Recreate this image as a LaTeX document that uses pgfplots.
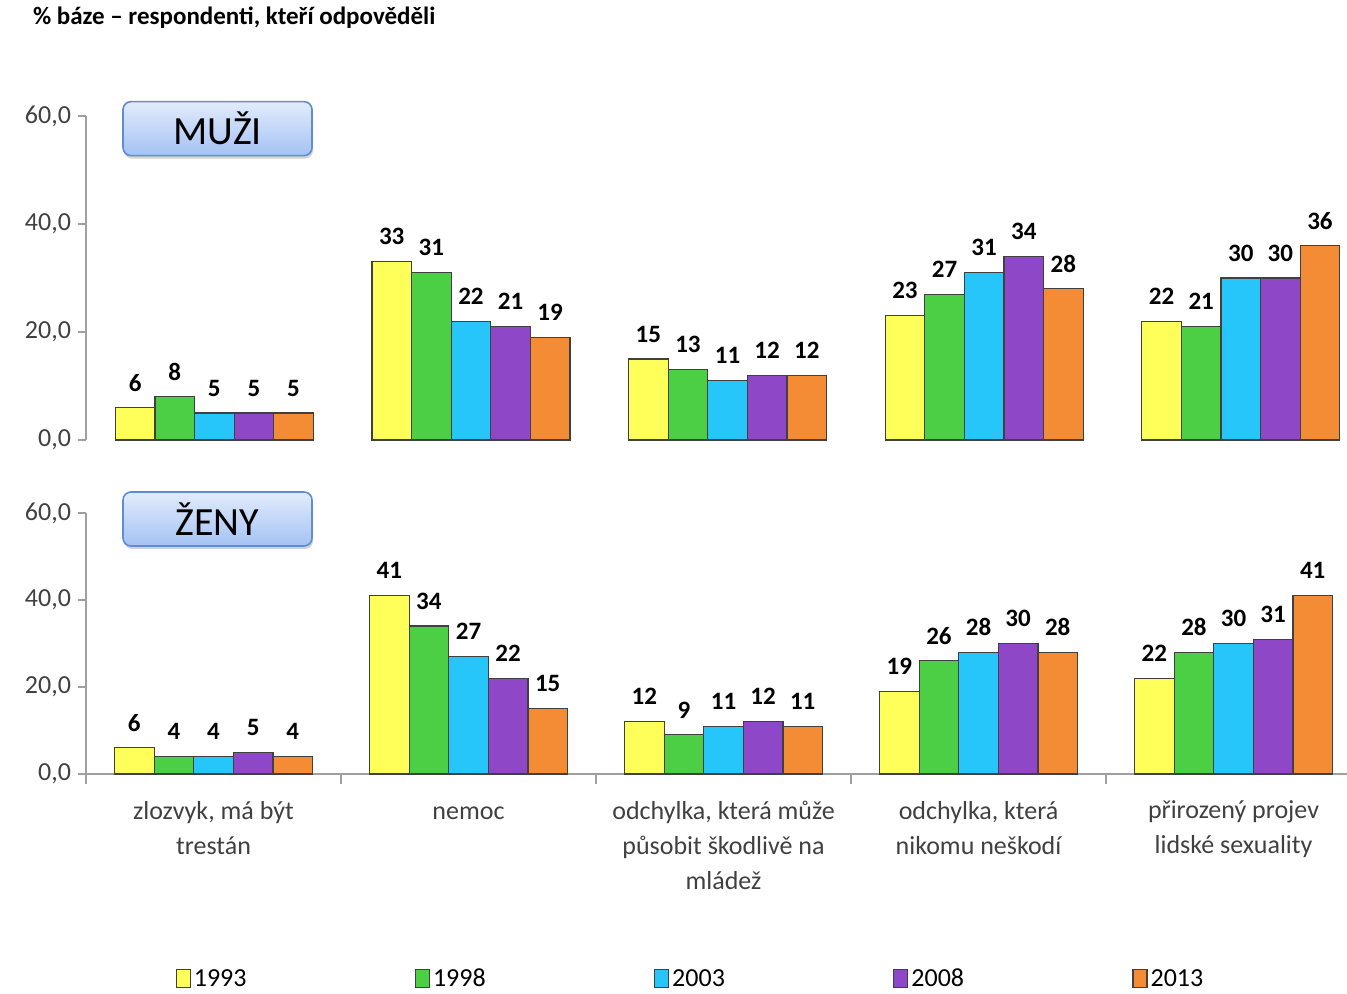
\documentclass[border=0pt]{standalone}
\usepackage{fontspec}
\setmainfont{Carlito}
\usepackage{pgfplots}
\pgfplotsset{compat=1.18}
\usetikzlibrary{shadows}
\definecolor{c93}{RGB}{255,255,90}
\definecolor{c98}{RGB}{76,207,69}
\definecolor{c03}{RGB}{38,198,250}
\definecolor{c08}{RGB}{142,71,198}
\definecolor{c13}{RGB}{244,140,53}
\definecolor{axgray}{RGB}{160,160,160}
\definecolor{txtgray}{RGB}{64,64,64}
\definecolor{boxtop}{RGB}{226,236,252}
\definecolor{boxbot}{RGB}{164,194,244}
\definecolor{boxdraw}{RGB}{95,140,210}

\tikzset{
  labelbox/.style={rounded corners=4pt, draw=boxdraw, line width=0.8pt,
    top color=boxtop, bottom color=boxbot, minimum width=94.5pt, minimum height=27pt,
    drop shadow={shadow xshift=0.5pt, shadow yshift=-1.5pt, opacity=0.35},
    font=\fontsize{20}{22}\selectfont, text=black},
}
\pgfplotsset{
  panel/.style={
    scale only axis, width=630.5pt,
    xmin=-0.5,
    ymin=0, ymax=60, ytick={0,20,40,60},
    ybar=0pt, bar width=19.8pt,
    axis x line*=bottom, axis y line*=left,
    axis line style={axgray, line width=0.8pt},
    y axis line style={-}, x axis line style={-},
    tick style={axgray, line width=0.8pt},
    tick align=outside, major tick length=4pt,
    /pgf/number format/assume math mode=true,
    yticklabel style={font=\fontsize{13}{15}\selectfont, text=txtgray,
      /pgf/number format/.cd, fixed, fixed zerofill, precision=1, use comma},
    every axis plot/.append style={draw=txtgray, line width=0.6pt},
    nodes near coords,
    every node near coord/.append style={font=\fontsize{12.5}{14}\selectfont\bfseries,
      text=black, anchor=center, yshift=12.5pt},
    clip=false,
  },
}

\begin{document}
\begin{tikzpicture}
\useasboundingbox (0,0) rectangle (673.5pt,497pt);

\node[anchor=west, font=\fontsize{12.5}{14}\selectfont\bfseries] at (13pt,488pt)
  {\% báze – respondenti, kteří odpověděli};

% MUZI
\begin{axis}[panel, xmax=4.414, at={(43pt,277pt)}, anchor=south west, height=162pt,
  xtick=\empty, axis x line=none]
\addplot[fill=c93] coordinates {(0,6) (1,33) (2,15) (3,23) (4,22)};
\addplot[fill=c98] coordinates {(0,8) (1,31) (2,13) (3,27) (4,21)};
\addplot[fill=c03] coordinates {(0,5) (1,22) (2,11) (3,31) (4,30)};
\addplot[fill=c08] coordinates {(0,5) (1,21) (2,12) (3,34) (4,30)};
\addplot[fill=c13] coordinates {(0,5) (1,19) (2,12) (3,28) (4,36)};
\node[labelbox] at (axis description cs:0.1043,0.961) {MUŽI};
\end{axis}

% ZENY
\begin{axis}[panel, xmax=4.445, at={(43pt,110pt)}, anchor=south west, height=130.5pt,
  xtick={0,1,2,3,4}, major x tick style={draw=none},
  minor xtick={-0.5,0.5,1.5,2.5,3.5}, minor tick length=5pt,
  xticklabels={{zlozvyk, má být\\trestán},{\vphantom{lý}nemoc},{odchylka, která může\\působit škodlivě na\\mládež},{odchylka, která\\nikomu neškodí},{přirozený projev\\lidské sexuality}},
  xticklabel style={font=\fontsize{13}{17.5}\selectfont, text=txtgray, align=center,
    anchor=north, yshift=-6pt},
  legend style={at={(axis description cs:0.066,-0.859)}, anchor=south west,
    draw=none, legend columns=5, font=\fontsize{13}{15}\selectfont,
    /tikz/every even column/.append style={column sep=0pt},
    nodes={text width=109pt, align=left, inner xsep=1.5pt}},
  legend image code/.code={\draw[#1, line width=0.6pt] (0pt,-4pt) rectangle (7pt,5pt);},
  ]
\addplot[fill=c93] coordinates {(0,6) (1,41) (2,12) (3,19) (4,22)};
\addplot[fill=c98] coordinates {(0,4) (1,34) (2,9) (3,26) (4,28)};
\addplot[fill=c03] coordinates {(0,4) (1,27) (2,11) (3,28) (4,30)};
\addplot[fill=c08] coordinates {(0,5) (1,22) (2,12) (3,30) (4,31)};
\addplot[fill=c13] coordinates {(0,4) (1,15) (2,11) (3,28) (4,41)};
\legend{1993,1998,2003,2008,2013}
\node[labelbox] at (axis description cs:0.1043,0.977) {ŽENY};
\end{axis}
\end{tikzpicture}
\end{document}
